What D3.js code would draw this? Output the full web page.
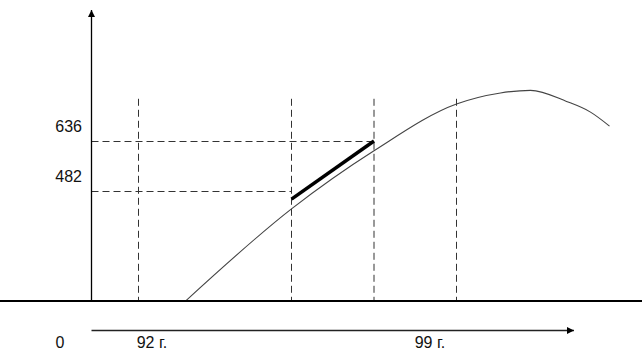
<!DOCTYPE html>
<html>
<head>
<meta charset="utf-8">
<script src="https://cdn.jsdelivr.net/npm/d3@7"></script>
<style>
  html, body { margin: 0; padding: 0; background: #fff; }
  svg { display: block; }
  text { font-family: "Liberation Sans", Arial, sans-serif; font-size: 16px; fill: #111; }
</style>
</head>
<body>
<div id="chart"></div>
<script>
// ---------------------------------------------------------------------------
// Data (x in arbitrary time units, y in value units)

// smooth curve
const curveX = [18.8, 40, 56.5, 73, 81.8, 87.8, 95, 99.8, 103.6];
const curveY = [143, 427, 606, 750, 784, 792, 758, 725, 682];

// thick segment
const segmentX = [40, 56.5];
const segmentY = [457, 636];

// vertical guide lines
const guideX = [9.4, 40, 56.5, 73];
const guideTop = 766;

// horizontal guide lines: value and where they stop
const levelValues = [636, 482];
const levelEnds = [56.5, 40];

// x labels under the arrow
const xLabelText = ['0', '92 г.', '99 г.'];
const xLabelAt = [-6.3, 12.1, 67.7];

const baseValue = 143;

// ---------------------------------------------------------------------------
// Layout

const width = 642;
const height = 354;

const x = d3.scaleLinear().domain([0, 100]).range([91.5, 591.5]);
const y = d3.scaleLinear().domain([482, 636]).range([191, 141]);

const svg = d3.select('#chart').append('svg')
  .attr('width', width)
  .attr('height', height);

const defs = svg.append('defs');
defs.append('marker')
  .attr('id', 'arrow')
  .attr('viewBox', '0 0 10 10')
  .attr('refX', 10)
  .attr('refY', 5)
  .attr('markerUnits', 'userSpaceOnUse')
  .attr('markerWidth', 8)
  .attr('markerHeight', 7)
  .attr('orient', 'auto')
  .append('path')
  .attr('d', 'M0,0 L10,5 L0,10 Z')
  .attr('fill', '#000');

const baseY = y(baseValue);

// vertical dashed guides
svg.selectAll('.guide-v')
  .data(guideX)
  .enter().append('line')
  .attr('class', 'guide-v')
  .attr('x1', d => x(d)).attr('x2', d => x(d))
  .attr('y1', y(guideTop)).attr('y2', baseY)
  .attr('stroke', '#333')
  .attr('stroke-width', 1)
  .attr('stroke-dasharray', '7,4');

// horizontal dashed guides
svg.selectAll('.guide-h')
  .data(levelValues)
  .enter().append('line')
  .attr('class', 'guide-h')
  .attr('x1', x(0)).attr('x2', (d, i) => x(levelEnds[i]))
  .attr('y1', d => Math.round(y(d)) + 0.5).attr('y2', d => Math.round(y(d)) + 0.5)
  .attr('stroke', '#333')
  .attr('stroke-width', 1.2)
  .attr('stroke-dasharray', '7,4');

// level labels
svg.selectAll('.level-label')
  .data(levelValues)
  .enter().append('text')
  .attr('class', 'level-label')
  .attr('x', 82)
  .attr('y', d => y(d) - 9)
  .attr('text-anchor', 'end')
  .text(d => d);

// the curve
const curvePoints = curveX.map((d, i) => [d, curveY[i]]);
const line = d3.line()
  .x(d => x(d[0]))
  .y(d => y(d[1]))
  .curve(d3.curveMonotoneX);

svg.append('path')
  .datum(curvePoints)
  .attr('d', line)
  .attr('fill', 'none')
  .attr('stroke', '#444')
  .attr('stroke-width', 1.1);

// thick segment
svg.append('path')
  .datum(segmentX.map((d, i) => [d, segmentY[i]]))
  .attr('d', d3.line().x(d => x(d[0])).y(d => y(d[1])))
  .attr('fill', 'none')
  .attr('stroke', '#000')
  .attr('stroke-width', 3.5);

// baseline
svg.append('line')
  .attr('x1', 0).attr('x2', width)
  .attr('y1', baseY).attr('y2', baseY)
  .attr('stroke', '#000')
  .attr('stroke-width', 2);

// vertical axis with arrow
svg.append('line')
  .attr('x1', x(0)).attr('x2', x(0))
  .attr('y1', baseY).attr('y2', 10)
  .attr('stroke', '#000')
  .attr('stroke-width', 1.3)
  .attr('marker-end', 'url(#arrow)');

// lower time arrow
svg.append('line')
  .attr('x1', x(0)).attr('x2', 574)
  .attr('y1', 330.5).attr('y2', 330.5)
  .attr('stroke', '#222')
  .attr('stroke-width', 1.3)
  .attr('marker-end', 'url(#arrow)');

// time labels
svg.selectAll('.x-label')
  .data(xLabelText)
  .enter().append('text')
  .attr('class', 'x-label')
  .attr('x', (d, i) => x(xLabelAt[i]))
  .attr('y', 348)
  .attr('text-anchor', 'middle')
  .text(d => d);
</script>
</body>
</html>
